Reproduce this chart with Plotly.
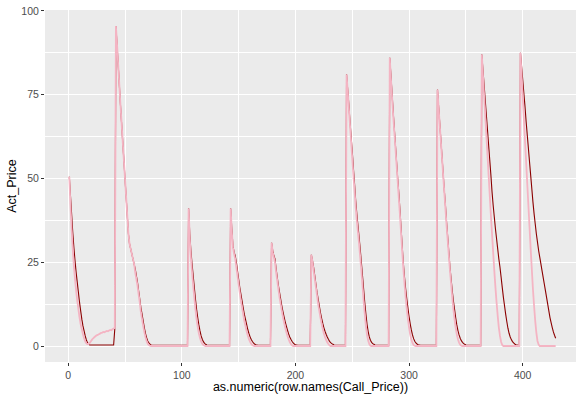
import plotly.graph_objects as go

# ---- data, 10 values per line ----
# Segment A: rows 1..41
act_a = [50.5, 45, 39.5, 34, 29.5, 25.5, 22, 19, 16, 13,
         10.5, 8, 6, 4.5, 3, 1.8, 1.0, 0.5, 0.3, 0.3,
         0.3, 0.3, 0.3, 0.3, 0.3, 0.3, 0.3, 0.3, 0.3, 0.3,
         0.3, 0.3, 0.3, 0.3, 0.3, 0.3, 0.3, 0.3, 0.3, 0.3,
         5.0]
pred_a = [50.5, 42, 35, 29, 24, 20, 16.5, 13.5, 11, 8.5,
          6.5, 5, 3.5, 2.3, 1.4, 0.8, 0.6, 0.6, 0.9, 1.4,
          1.9, 2.3, 2.6, 2.9, 3.2, 3.3, 3.5, 3.7, 3.9, 4.0,
          4.2, 4.1, 4.3, 4.5, 4.4, 4.6, 4.8, 4.7, 5.0, 5.2,
          5.4]
# Segment B: rows 42..105
act_b = [95.5, 90, 84, 78, 72, 66.5, 61, 55.5, 50, 44.5,
         39, 33.5, 30.5, 29, 27.5, 26, 24.5, 23, 21, 19,
         16.5, 14, 11.5, 9.5, 7.5, 5.5, 3.8, 2.5, 1.5, 0.9,
         0.5, 0.3, 0.2, 0.2, 0.2, 0.2, 0.2, 0.2, 0.2, 0.2,
         0.2, 0.2, 0.2, 0.2, 0.2, 0.2, 0.2, 0.2, 0.2, 0.2,
         0.2, 0.2, 0.2, 0.2, 0.2, 0.2, 0.2, 0.2, 0.2, 0.2,
         0.2, 0.2, 0.2, 0.2]
pred_b = [95.5, 90, 84, 78, 72, 66.5, 61, 55.5, 50, 44.5,
          39, 33.5, 30.5, 29, 27.5, 26, 24.5, 22, 20, 18,
          15.5, 13, 10, 8, 6, 4.2, 2.7, 1.5, 0.7, 0.3,
          0.1, 0, 0, 0, 0, 0, 0, 0, 0, 0,
          0, 0, 0, 0, 0, 0, 0, 0, 0, 0,
          0, 0, 0, 0, 0, 0, 0, 0, 0, 0,
          0, 0, 0, 0]
# Segment C: rows 106..142
act_c = [41, 33.5, 28.5, 24.5, 21, 17.5, 14, 11, 8.5, 6.3,
         4.5, 3, 2, 1.3, 0.8, 0.5, 0.3, 0.2, 0.2, 0.2,
         0.2, 0.2, 0.2, 0.2, 0.2, 0.2, 0.2, 0.2, 0.2, 0.2,
         0.2, 0.2, 0.2, 0.2, 0.2, 0.2, 0.2]
pred_c = [41, 32, 26.5, 22, 18, 14.5, 11, 8, 5.7, 3.8,
          2.4, 1.4, 0.7, 0.3, 0.1, 0, 0, 0, 0, 0,
          0, 0, 0, 0, 0, 0, 0, 0, 0, 0,
          0, 0, 0, 0, 0, 0, 0]
# Segment D: rows 143..178
act_d = [41, 35, 30, 28, 27, 25, 22.5, 20, 17.5, 15.5,
         13.5, 11.5, 9.5, 8, 6.5, 5, 3.8, 2.8, 2, 1.4,
         0.9, 0.6, 0.4, 0.3, 0.2, 0.2, 0.2, 0.2, 0.2, 0.2,
         0.2, 0.2, 0.2, 0.2, 0.2, 0.2]
pred_d = [41, 34, 29.5, 27.5, 26, 23.5, 21, 18.5, 16, 13.5,
          11.5, 9.5, 7.5, 6, 4.5, 3.2, 2.1, 1.3, 0.7, 0.3,
          0.1, 0, 0, 0, 0, 0, 0, 0, 0, 0,
          0, 0, 0, 0, 0, 0]
# Segment E: rows 179..213
act_e = [30.8, 28.5, 27, 26, 23, 20.5, 18, 16, 14, 12,
         10.3, 8.7, 7.2, 5.9, 4.7, 3.6, 2.7, 2, 1.4, 0.9,
         0.6, 0.4, 0.3, 0.2, 0.2, 0.2, 0.2, 0.2, 0.2, 0.2,
         0.2, 0.2, 0.2, 0.2, 0.2]
pred_e = [30.8, 28, 26.5, 25, 22, 19.5, 17, 14.5, 12.5, 10.5,
          8.7, 7, 5.5, 4.2, 3, 2, 1.2, 0.6, 0.2, 0,
          0, 0, 0, 0, 0, 0, 0, 0, 0, 0,
          0, 0, 0, 0, 0]
# Segment F: rows 214..244
act_f = [27.2, 25.5, 23.5, 21, 18.5, 16, 14, 12, 10, 8.3,
         6.8, 5.5, 4.4, 3.5, 2.7, 2, 1.4, 1, 0.7, 0.5,
         0.3, 0.2, 0.2, 0.2, 0.2, 0.2, 0.2, 0.2, 0.2, 0.2,
         0.2]
pred_f = [27.2, 25, 22.5, 20, 17.5, 15, 12.5, 10.5, 8.5, 6.7,
          5.1, 3.8, 2.7, 1.8, 1.1, 0.6, 0.2, 0, 0, 0,
          0, 0, 0, 0, 0, 0, 0, 0, 0, 0,
          0]
# Segment G: rows 245..282
act_g = [81, 76.5, 72, 67, 62.5, 58, 53, 48.5, 43.5, 39.5,
         36, 32.5, 29, 25, 21, 17, 13, 9.5, 6.5, 4.3,
         2.7, 1.7, 1.1, 0.7, 0.5, 0.3, 0.2, 0.2, 0.2, 0.2,
         0.2, 0.2, 0.2, 0.2, 0.2, 0.2, 0.2, 0.2]
pred_g = [81, 76, 71, 66, 61, 56, 51, 46.5, 41.5, 37.5,
          34, 30.5, 26.5, 22.5, 18, 13.5, 9.5, 6, 3.3, 1.6,
          0.6, 0.1, 0, 0, 0, 0, 0, 0, 0, 0,
          0, 0, 0, 0, 0, 0, 0, 0]
# Segment H: rows 283..324
act_h = [86, 81, 75.5, 70, 65, 60, 55, 50, 45.5, 40.5,
         35, 29.5, 24.5, 20.5, 17, 14, 11.3, 8.8, 6.6, 4.8,
         3.3, 2.2, 1.4, 0.9, 0.6, 0.4, 0.3, 0.2, 0.2, 0.2,
         0.2, 0.2, 0.2, 0.2, 0.2, 0.2, 0.2, 0.2, 0.2, 0.2,
         0.2, 0.2]
pred_h = [86, 80, 74.5, 69, 64, 59, 54, 49, 44, 39,
          33.5, 28, 23, 18.5, 14.5, 11, 8, 5.5, 3.4, 1.9,
          0.9, 0.3, 0.1, 0, 0, 0, 0, 0, 0, 0,
          0, 0, 0, 0, 0, 0, 0, 0, 0, 0,
          0, 0]
# Segment I: rows 325..363
act_i = [76.5, 71.5, 66.5, 61.5, 56.5, 51.5, 46.5, 42, 37, 32.5,
         28, 23.5, 20, 16.5, 13.5, 11, 8.5, 6.3, 4.6, 3.3,
         2.3, 1.6, 1.1, 0.7, 0.5, 0.3, 0.2, 0.2, 0.2, 0.2,
         0.2, 0.2, 0.2, 0.2, 0.2, 0.2, 0.2, 0.2, 0.2]
pred_i = [76.5, 71, 66, 61, 56, 51, 46, 41, 36, 31.5,
          27, 22.5, 18.5, 14.5, 11, 8, 5.5, 3.5, 2, 1,
          0.4, 0.1, 0, 0, 0, 0, 0, 0, 0, 0,
          0, 0, 0, 0, 0, 0, 0, 0, 0]
# Segment J: rows 364..397
act_j = [87, 82.5, 78, 73.5, 69, 64.5, 60, 55.5, 51, 46,
         42, 38.5, 35, 32, 29, 26, 23.5, 20.5, 17.5, 14.5,
         12, 9.5, 7.3, 5.3, 3.8, 2.7, 1.9, 1.3, 0.9, 0.6,
         0.4, 0.3, 0.2, 0.2]
pred_j = [87, 81, 75, 69, 63, 57, 51, 45, 39, 33.5,
          28, 22.5, 17.5, 13, 9, 5.5, 3, 1.2, 0.3, 0,
          0, 0, 0, 0, 0, 0, 0, 0, 0, 0,
          0, 0, 0, 0]
# Segment K: rows 398..429
act_k = [87.5, 83.5, 79.5, 75.5, 71.5, 67, 63, 59, 55, 51,
         47, 43, 39.5, 36.5, 33.5, 31, 28.5, 26.5, 24.5, 22.5,
         20.5, 18.5, 16.5, 14.5, 12.5, 10.5, 8.5, 7, 5.5, 4.2,
         3.2, 2.3]
pred_k = [87.5, 81, 74.5, 68, 61.5, 55, 48.5, 42, 35.5, 29,
          23, 17, 12, 7.5, 4, 1.5, 0.4, 0, 0, 0,
          0, 0, 0, 0, 0, 0, 0, 0, 0, 0,
          0, 0]

act_segments = [act_a, act_b, act_c, act_d, act_e, act_f, act_g, act_h, act_i, act_j, act_k]
pred_segments = [pred_a, pred_b, pred_c, pred_d, pred_e, pred_f, pred_g, pred_h, pred_i, pred_j, pred_k]
for a, p in zip(act_segments, pred_segments):
    assert len(a) == len(p), (len(a), len(p))

act_price = [v for seg in act_segments for v in seg]
pred_price = [v for seg in pred_segments for v in seg]
row_names = list(range(1, len(act_price) + 1))

x_ticks = [0, 100, 200, 300, 400]
y_ticks = [0, 25, 50, 75, 100]

fig = go.Figure()
fig.add_trace(go.Scatter(x=row_names, y=act_price, mode="lines",
                         line=dict(color="#8B0000", width=1.1, simplify=False), showlegend=False))
fig.add_trace(go.Scatter(x=row_names, y=pred_price, mode="lines",
                         line=dict(color="#F4B4C3", width=1.8, simplify=False), showlegend=False))

font_family = "Liberation Sans, Arial, sans-serif"
ymax = max(act_price)
fig.update_layout(
    width=576, height=394,
    margin=dict(l=45, r=0, t=10, b=32, autoexpand=False),
    paper_bgcolor="white",
    plot_bgcolor="#EBEBEB",
    font=dict(family=font_family, color="#4D4D4D", size=10.5),
    xaxis=dict(
        range=[-20.4, 446.9],
        tickvals=x_ticks, ticktext=[str(v) for v in x_ticks],
        showgrid=True, gridcolor="white", gridwidth=1.1,
        minor=dict(dtick=50, tick0=0, showgrid=True, gridcolor="white", gridwidth=0.5),
        ticks="outside", ticklen=3, tickcolor="#333333", tickwidth=1,
        zeroline=False, showline=False,
        title=dict(text="as.numeric(row.names(Call_Price))",
                   font=dict(size=12.5, color="black", family=font_family), standoff=0),
        tickfont=dict(size=10.5, color="#4D4D4D"),
        automargin=False,
    ),
    yaxis=dict(
        range=[-0.05 * ymax, 1.05 * ymax],
        tickvals=y_ticks, ticktext=[str(v) for v in y_ticks],
        showgrid=True, gridcolor="white", gridwidth=1.1,
        minor=dict(dtick=12.5, tick0=0, showgrid=True, gridcolor="white", gridwidth=0.5),
        ticks="outside", ticklen=3, tickcolor="#333333", tickwidth=1,
        zeroline=False, showline=False,
        title=dict(text="Act_Price",
                   font=dict(size=12.5, color="black", family=font_family), standoff=1),
        tickfont=dict(size=10.5, color="#4D4D4D"),
        automargin=False,
    ),
)

fig.write_html("out.html", config={"displayModeBar": False},
               post_script="document.body.style.margin='0';document.body.style.overflow='hidden';")
